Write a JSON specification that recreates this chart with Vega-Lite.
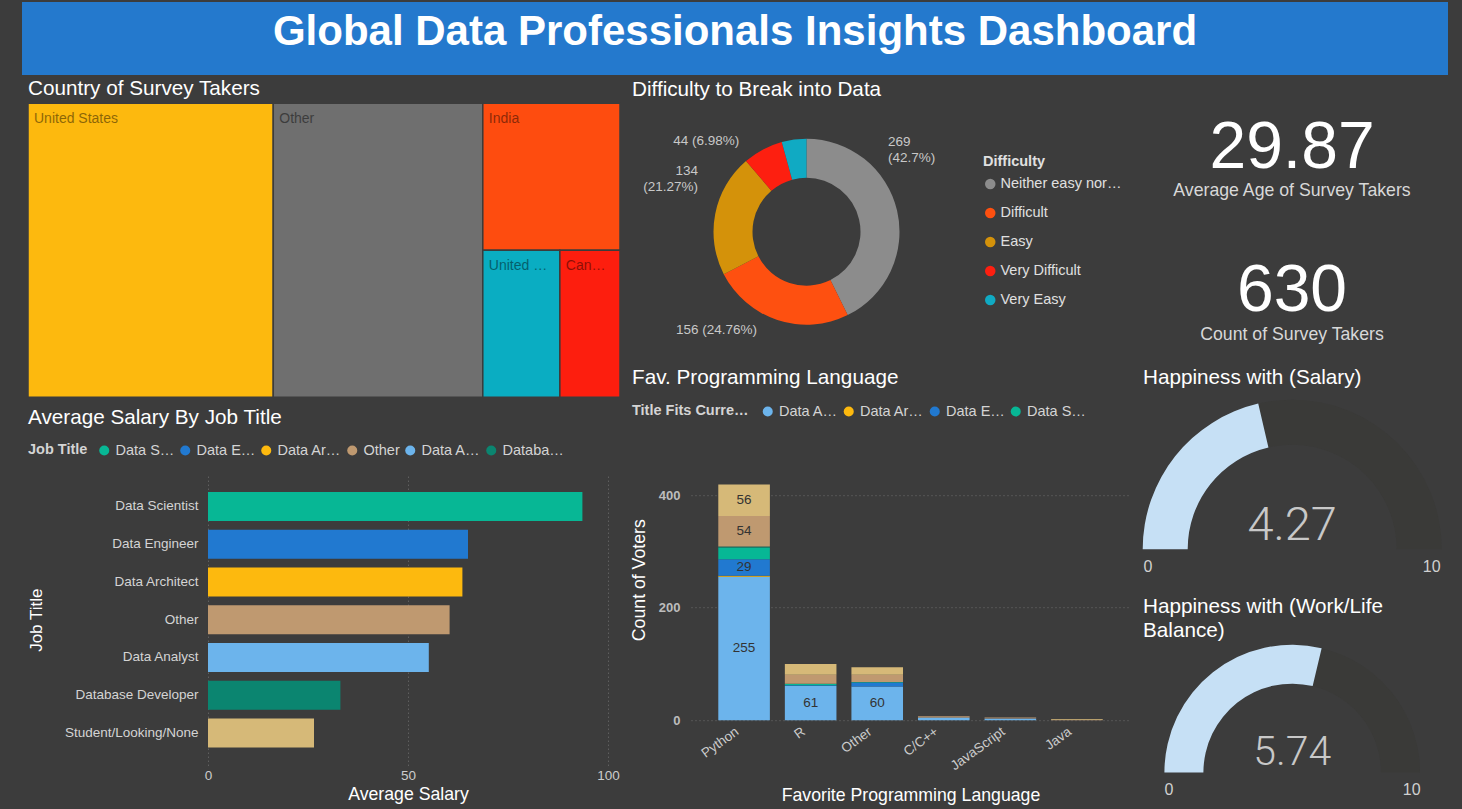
{
  "$schema": "https://vega.github.io/schema/vega-lite/v6.json",
  "autosize": {"type": "none"},
  "padding": {"left": 22, "top": 2, "right": 1440, "bottom": 807},
  "background": "#3c3c3c",
  "config": {
    "font": "Liberation Sans",
    "view": {"stroke": null},
    "title": {"font": "Liberation Sans", "fontSize": 20.7, "fontWeight": "normal", "color": "#ffffff", "anchor": "start", "frame": "group"},
    "axis": {"domain": false, "ticks": false, "grid": false, "labelFont": "Liberation Sans", "titleFont": "Liberation Sans", "labelColor": "#cccccc", "titleColor": "#ffffff", "titleFontWeight": "normal"},
    "legend": {"labelFont": "Liberation Sans", "titleFont": "Liberation Sans"}
  },
  "spacing": 2.2,
  "resolve": {"scale": {"color": "independent"}, "legend": {"color": "independent"}},
  "vconcat": [
    {
      "width": 1426, "height": 73,
      "view": {"fill": "#2479cd"},
      "data": {"values": [{"t": "Global Data Professionals Insights Dashboard"}]},
      "mark": {"type": "text", "fontSize": 42, "fontWeight": "bold", "color": "#ffffff", "align": "center", "baseline": "alphabetic", "dy": 6},
      "encoding": {"text": {"field": "t"}}
    },
    {
      "spacing": -31,
      "resolve": {"scale": {"color": "independent"}, "legend": {"color": "independent"}},
      "vconcat": [
        {
          "hconcat": [
            {"width": 6, "height": 1, "data": {"values": [{}]}, "mark": {"type": "point", "opacity": 0}},
            {
              "width": 592, "height": 294,
              "title": {"text": "Country of Survey Takers", "offset": 3},
              "data": {"values": [
                {"country": "United States", "count": 261, "grp": "A", "sub": "a"},
                {"country": "Other", "count": 223, "grp": "B", "sub": "a"},
                {"country": "India", "count": 73, "grp": "C", "sub": "a"},
                {"country": "United Kingdom", "count": 41, "grp": "C", "sub": "b"},
                {"country": "Canada", "count": 32, "grp": "C", "sub": "b"}
              ]},
              "transform": [
                {"joinaggregate": [{"op": "sum", "field": "count", "as": "gT"}], "groupby": ["grp"]},
                {"joinaggregate": [{"op": "sum", "field": "count", "as": "sT"}], "groupby": ["grp", "sub"]},
                {"stack": "count", "groupby": [], "sort": [{"field": "count", "order": "descending"}], "as": ["s0", "s1"]},
                {"joinaggregate": [{"op": "min", "field": "s0", "as": "gS"}], "groupby": ["grp"]},
                {"joinaggregate": [{"op": "min", "field": "s0", "as": "subS"}], "groupby": ["grp", "sub"]},
                {"calculate": "datum.gS + (datum.s0 - datum.subS) * datum.gT / datum.sT", "as": "x0"},
                {"calculate": "datum.gS + (datum.s1 - datum.subS) * datum.gT / datum.sT", "as": "x1"},
                {"calculate": "(datum.subS - datum.gS) / datum.gT", "as": "y0"},
                {"calculate": "datum.y0 + datum.sT / datum.gT", "as": "y1"}
              ],
              "layer": [
                {
                  "mark": {"type": "rect", "stroke": "#3c3c3c", "strokeWidth": 1.5},
                  "encoding": {
                    "x": {"field": "x0", "type": "quantitative", "scale": {"nice": false, "zero": true}, "axis": null},
                    "x2": {"field": "x1"},
                    "y": {"field": "y0", "type": "quantitative", "scale": {"nice": false, "reverse": true, "domain": [0, 1]}, "axis": null},
                    "y2": {"field": "y1"},
                    "color": {"field": "country", "type": "nominal",
                      "scale": {"domain": ["United States", "Other", "India", "United Kingdom", "Canada"], "range": ["#fdb90e", "#6f6f6f", "#fe4c0f", "#0aadc2", "#fd1e0e"]},
                      "legend": null}
                  }
                },
                {
                  "mark": {"type": "text", "align": "left", "baseline": "top", "dx": 6, "dy": 9, "fontSize": 14, "color": "#000000", "opacity": 0.45,
                    "limit": {"expr": "(datum.x1 - datum.x0) * 592 / 630 - 14"}},
                  "encoding": {
                    "x": {"field": "x0", "type": "quantitative"},
                    "y": {"field": "y0", "type": "quantitative"},
                    "text": {"field": "country"}
                  }
                }
              ]
            },
            {
              "width": 373, "height": 257,
              "title": {"text": "Difficulty to Break into Data", "offset": 3, "dx": 12},
              "data": {"values": [
                {"difficulty": "Neither easy nor difficult", "count": 269},
                {"difficulty": "Difficult", "count": 156},
                {"difficulty": "Easy", "count": 134},
                {"difficulty": "Very Difficult", "count": 44},
                {"difficulty": "Very Easy", "count": 27}
              ]},
              "transform": [
                {"stack": "count", "groupby": [], "sort": [{"field": "count", "order": "descending"}], "as": ["a0", "a1"]},
                {"calculate": "(datum.a0 + datum.a1) / 2", "as": "mid"},
                {"joinaggregate": [{"op": "sum", "field": "count", "as": "tot"}]},
                {"calculate": "format(datum.count / datum.tot, '.2~%')", "as": "pct"}
              ],
              "layer": [
                {
                  "mark": {"type": "arc", "innerRadius": 54, "outerRadius": 93},
                  "encoding": {
                    "theta": {"field": "a0", "type": "quantitative", "scale": {"domain": [0, 630]}},
                    "theta2": {"field": "a1"},
                    "color": {"field": "difficulty", "type": "nominal",
                      "scale": {"domain": ["Neither easy nor difficult", "Difficult", "Easy", "Very Difficult", "Very Easy"], "range": ["#8c8c8c", "#fe5010", "#d4920a", "#fd1f10", "#10aac3"]},
                      "legend": {"orient": "none", "legendX": 363, "legendY": 52, "title": "Difficulty", "titleFontSize": 14.5, "titleFontWeight": "bold", "titleColor": "#e0e0e0", "titlePadding": 7,
                        "labelFontSize": 14.5, "labelColor": "#e0e0e0", "labelLimit": 122.5, "symbolType": "circle", "symbolSize": 110, "symbolStrokeWidth": 0, "rowPadding": 14, "labelOffset": 3, "padding": 0}}
                  }
                },
                {
                  "transform": [{"filter": "datum.difficulty == 'Neither easy nor difficult'"}, {"calculate": "datum.count + '\\n(' + datum.pct + ')'", "as": "lbl"}],
                  "mark": {"type": "text", "radius": 110, "align": "left", "baseline": "alphabetic", "dx": -25.6, "dy": -60.6, "lineBreak": "\n", "lineHeight": 16, "fontSize": 13.5, "color": "#c8c8c8"},
                  "encoding": {"theta": {"field": "mid", "type": "quantitative", "stack": null}, "text": {"field": "lbl"}}
                },
                {
                  "transform": [{"filter": "datum.difficulty == 'Difficult'"}, {"calculate": "datum.count + ' (' + datum.pct + ')'", "as": "lbl"}],
                  "mark": {"type": "text", "radius": 110, "align": "right", "baseline": "alphabetic", "dx": -15, "dy": -2, "fontSize": 13.5, "color": "#c8c8c8"},
                  "encoding": {"theta": {"field": "mid", "type": "quantitative", "stack": null}, "text": {"field": "lbl"}}
                },
                {
                  "transform": [{"filter": "datum.difficulty == 'Easy'"}, {"calculate": "datum.count + '\\n(' + datum.pct + ')'", "as": "lbl"}],
                  "mark": {"type": "text", "radius": 110, "align": "right", "baseline": "alphabetic", "dx": -0.6, "dy": -35, "lineBreak": "\n", "lineHeight": 16, "fontSize": 13.5, "color": "#c8c8c8"},
                  "encoding": {"theta": {"field": "mid", "type": "quantitative", "stack": null}, "text": {"field": "lbl"}}
                },
                {
                  "transform": [{"filter": "datum.difficulty == 'Very Difficult'"}, {"calculate": "datum.count + ' (' + datum.pct + ')'", "as": "lbl"}],
                  "mark": {"type": "text", "radius": 110, "align": "right", "baseline": "alphabetic", "dx": -15.6, "dy": 10.6, "fontSize": 13.5, "color": "#c8c8c8"},
                  "encoding": {"theta": {"field": "mid", "type": "quantitative", "stack": null}, "text": {"field": "lbl"}}
                }
              ]
            },
            {
              "width": 598, "height": 257,
              "data": {"values": [
                {"metric": "Average Age of Survey Takers", "value": 29.87},
                {"metric": "Count of Survey Takers", "value": 630}
              ]},
              "layer": [
                {"transform": [{"filter": "datum.metric == 'Average Age of Survey Takers'"}],
                 "mark": {"type": "text", "fontSize": 66, "color": "#ffffff", "baseline": "alphabetic", "dy": -63.5},
                 "encoding": {"text": {"field": "value", "type": "quantitative", "format": ".2f"}}},
                {"transform": [{"filter": "datum.metric == 'Average Age of Survey Takers'"}],
                 "mark": {"type": "text", "fontSize": 17.7, "color": "#d8d8d8", "baseline": "alphabetic", "dy": -36},
                 "encoding": {"text": {"field": "metric"}}},
                {"transform": [{"filter": "datum.metric == 'Count of Survey Takers'"}],
                 "mark": {"type": "text", "fontSize": 66, "color": "#ffffff", "baseline": "alphabetic", "dy": 79.5},
                 "encoding": {"text": {"field": "value", "type": "quantitative", "format": "d"}}},
                {"transform": [{"filter": "datum.metric == 'Count of Survey Takers'"}],
                 "mark": {"type": "text", "fontSize": 17.7, "color": "#d8d8d8", "baseline": "alphabetic", "dy": 108},
                 "encoding": {"text": {"field": "metric"}}}
              ]
            }
          ],
          "spacing": 0,
          "bounds": "flush",
          "resolve": {"scale": {"color": "independent"}, "legend": {"color": "independent"}}
        },
        {
          "hconcat": [
            {"width": 186, "height": 1, "data": {"values": [{}]}, "mark": {"type": "point", "opacity": 0}},
            {
              "width": 483, "height": 291,
              "title": {"text": "Average Salary By Job Title", "dx": -180, "offset": 14.8},
              "data": {"values": [
                {"job": "Data Scientist", "salary": 93.6},
                {"job": "Data Engineer", "salary": 65.0},
                {"job": "Data Architect", "salary": 63.6},
                {"job": "Other", "salary": 60.4},
                {"job": "Data Analyst", "salary": 55.2},
                {"job": "Database Developer", "salary": 33.1},
                {"job": "Student/Looking/None", "salary": 26.5}
              ]},
              "mark": {"type": "bar"},
              "encoding": {
                "y": {"field": "job", "type": "nominal", "sort": "-x", "title": "Job Title",
                  "scale": {"paddingInner": 0.232, "paddingOuter": 0.47},
                  "axis": {"labelFontSize": 13.5, "labelColor": "#d4d4d4", "labelPadding": 10, "labelLimit": 220, "titleFontSize": 17, "titlePadding": 19}},
                "x": {"field": "salary", "type": "quantitative", "title": "Average Salary",
                  "scale": {"domain": [0, 120.75], "nice": false},
                  "axis": {"values": [0, 50, 100], "labelFlush": false, "grid": true, "gridColor": "#707070", "gridDash": [1, 3], "labelFontSize": 13.5, "labelColor": "#cccccc", "labelPadding": 3, "titleFontSize": 17.7, "titlePadding": 4, "titleX": 200}},
                "color": {"field": "job", "type": "nominal",
                  "scale": {"domain": ["Data Scientist", "Data Engineer", "Data Architect", "Other", "Data Analyst", "Database Developer", "Student/Looking/None"],
                            "range": ["#07b795", "#2179d0", "#fdb90e", "#bf9970", "#6cb4ec", "#0b8570", "#d6b978"]},
                  "legend": {"orient": "none", "legendX": -180, "legendY": -31, "direction": "horizontal", "title": "Job Title", "titleOrient": "left",
                    "values": ["Data Scientist", "Data Engineer", "Data Architect", "Other", "Data Analyst", "Database Developer"],
                    "titleFontSize": 14.5, "titleFontWeight": "bold", "titleColor": "#d4d4d4", "titlePadding": 9,
                    "labelFontSize": 14.5, "labelColor": "#d4d4d4", "labelLimit": 64.5, "labelOffset": 4, "columnPadding": 3,
                    "symbolType": "circle", "symbolSize": 100, "symbolStrokeWidth": 0, "padding": 0}}
              }
            },
            {
              "width": 439, "height": 246,
              "title": {"text": "Fav. Programming Language", "dx": -59, "offset": 15.3},
              "data": {"values": [
                {"lang": "Python", "job": "Data Analyst", "count": 255},
                {"lang": "Python", "job": "Data Architect", "count": 2},
                {"lang": "Python", "job": "Data Engineer", "count": 29},
                {"lang": "Python", "job": "Data Scientist", "count": 21},
                {"lang": "Python", "job": "Database Developer", "count": 2},
                {"lang": "Python", "job": "Other", "count": 54},
                {"lang": "Python", "job": "Student/Looking/None", "count": 56},
                {"lang": "R", "job": "Data Analyst", "count": 61},
                {"lang": "R", "job": "Data Engineer", "count": 1},
                {"lang": "R", "job": "Data Scientist", "count": 3},
                {"lang": "R", "job": "Other", "count": 16},
                {"lang": "R", "job": "Student/Looking/None", "count": 19},
                {"lang": "Other", "job": "Data Analyst", "count": 60},
                {"lang": "Other", "job": "Data Engineer", "count": 7},
                {"lang": "Other", "job": "Data Scientist", "count": 1},
                {"lang": "Other", "job": "Other", "count": 13},
                {"lang": "Other", "job": "Student/Looking/None", "count": 13},
                {"lang": "C/C++", "job": "Data Analyst", "count": 5},
                {"lang": "C/C++", "job": "Other", "count": 2},
                {"lang": "JavaScript", "job": "Data Analyst", "count": 2},
                {"lang": "JavaScript", "job": "Data Engineer", "count": 1},
                {"lang": "JavaScript", "job": "Other", "count": 2},
                {"lang": "Java", "job": "Other", "count": 1},
                {"lang": "Java", "job": "Student/Looking/None", "count": 1}
              ]},
              "transform": [
                {"stack": "count", "groupby": ["lang"], "sort": [{"field": "job", "order": "ascending"}], "as": ["c0", "c1"]}
              ],
              "layer": [
                {
                  "mark": {"type": "bar"},
                  "encoding": {
                    "x": {"field": "lang", "type": "nominal", "sort": ["Python", "R", "Other", "C/C++", "JavaScript", "Java"], "title": "Favorite Programming Language",
                      "scale": {"paddingInner": 0.225, "paddingOuter": 0.41},
                      "axis": {"labelAngle": -36, "labelFontSize": 13.5, "labelColor": "#cccccc", "labelPadding": 4, "labelOffset": -11, "titleFontSize": 17.7, "titlePadding": 14}},
                    "y": {"field": "c0", "type": "quantitative", "title": "Count of Voters",
                      "scale": {"domain": [0, 437.33], "nice": false},
                      "axis": {"values": [0, 200, 400], "grid": true, "gridColor": "#707070", "gridDash": [1, 3], "labelFontSize": 13, "labelFontWeight": "bold", "labelColor": "#bdbdbd", "labelPadding": 11, "titleFontSize": 17.7, "titlePadding": 10, "titleY": 105.5}},
                    "y2": {"field": "c1"},
                    "color": {"field": "job", "type": "nominal",
                      "scale": {"domain": ["Data Analyst", "Data Architect", "Data Engineer", "Data Scientist", "Database Developer", "Other", "Student/Looking/None"],
                                "range": ["#6cb4ec", "#fdb90e", "#2179d0", "#07b795", "#0b8570", "#bf9970", "#d6b978"]},
                      "legend": {"orient": "none", "legendX": -59, "legendY": -70, "direction": "horizontal", "title": "Title Fits Current Role", "titleOrient": "left", "titleLimit": 120,
                        "values": ["Data Analyst", "Data Architect", "Data Engineer", "Data Scientist"],
                        "titleFontSize": 14.5, "titleFontWeight": "bold", "titleColor": "#d4d4d4", "titlePadding": 11.5,
                        "labelFontSize": 14.5, "labelColor": "#d4d4d4", "labelLimit": 64.5, "labelOffset": 4, "columnPadding": 3,
                        "symbolType": "circle", "symbolSize": 100, "symbolStrokeWidth": 0, "padding": 0}}
                  }
                },
                {
                  "transform": [{"filter": "datum.count >= 25"}, {"calculate": "(datum.c0 + datum.c1) / 2", "as": "cm"}],
                  "mark": {"type": "text", "fontSize": 13.5, "color": "#333333"},
                  "encoding": {
                    "x": {"field": "lang", "type": "nominal", "sort": ["Python", "R", "Other", "C/C++", "JavaScript", "Java"]},
                    "y": {"field": "cm", "type": "quantitative"},
                    "text": {"field": "count", "type": "quantitative"}
                  }
                }
              ]
            },
            {
              "width": 324.4, "height": 373.3,
              "data": {"values": [
                {"measure": "Salary", "title": "Happiness with (Salary)", "value": 4.27, "min": 0, "max": 10},
                {"measure": "Work/Life Balance", "title": "Happiness with (Work/Life\nBalance)", "value": 5.74, "min": 0, "max": 10}
              ]},
              "encoding": {
                "y": {"field": "measure", "type": "nominal", "scale": {"type": "point", "padding": 0.3359, "domain": ["Salary", "Work/Life Balance"]}, "axis": null}
              },
              "layer": [
                {"transform": [{"filter": "datum.measure == 'Salary'"}],
                 "mark": {"type": "arc", "outerRadius": 149.5, "innerRadius": 104.5, "color": "#3a3a38"},
                 "encoding": {"theta": {"field": "min", "type": "quantitative", "stack": null, "scale": {"domain": [0, 10], "range": [-1.5707963, 1.5707963]}}, "theta2": {"field": "max"}}},
                {"transform": [{"filter": "datum.measure == 'Salary'"}],
                 "mark": {"type": "arc", "outerRadius": 149.5, "innerRadius": 104.5, "color": "#c6e0f5"},
                 "encoding": {"theta": {"field": "min", "type": "quantitative", "stack": null}, "theta2": {"field": "value"}}},
                {"transform": [{"filter": "datum.measure == 'Work/Life Balance'"}],
                 "mark": {"type": "arc", "outerRadius": 127.8, "innerRadius": 88.8, "color": "#3a3a38"},
                 "encoding": {"theta": {"field": "min", "type": "quantitative", "stack": null}, "theta2": {"field": "max"}}},
                {"transform": [{"filter": "datum.measure == 'Work/Life Balance'"}],
                 "mark": {"type": "arc", "outerRadius": 127.8, "innerRadius": 88.8, "color": "#c6e0f5"},
                 "encoding": {"theta": {"field": "min", "type": "quantitative", "stack": null}, "theta2": {"field": "value"}}},
                {"transform": [{"filter": "datum.measure == 'Salary'"}],
                 "mark": {"type": "text", "font": "Liberation Sans Narrow, Roboto", "fontWeight": 300, "fontSize": 47, "color": "#c8c8c8", "baseline": "alphabetic", "dy": -9},
                 "encoding": {"text": {"field": "value", "type": "quantitative", "format": ".2f"}}},
                {"transform": [{"filter": "datum.measure == 'Work/Life Balance'"}],
                 "mark": {"type": "text", "font": "Liberation Sans Narrow, Roboto", "fontWeight": 300, "fontSize": 41, "color": "#c8c8c8", "baseline": "alphabetic", "dy": -7.3},
                 "encoding": {"text": {"field": "value", "type": "quantitative", "format": ".2f"}}},
                {"transform": [{"filter": "datum.measure == 'Salary'"}],
                 "mark": {"type": "text", "fontSize": 16, "color": "#d0d0d0", "dx": -144.2, "dy": 17.7},
                 "encoding": {"text": {"field": "min", "type": "quantitative"}}},
                {"transform": [{"filter": "datum.measure == 'Salary'"}],
                 "mark": {"type": "text", "fontSize": 16, "color": "#d0d0d0", "dx": 139.5, "dy": 17.7},
                 "encoding": {"text": {"field": "max", "type": "quantitative"}}},
                {"transform": [{"filter": "datum.measure == 'Work/Life Balance'"}],
                 "mark": {"type": "text", "fontSize": 16, "color": "#d0d0d0", "dx": -123.2, "dy": 17.7},
                 "encoding": {"text": {"field": "min", "type": "quantitative"}}},
                {"transform": [{"filter": "datum.measure == 'Work/Life Balance'"}],
                 "mark": {"type": "text", "fontSize": 16, "color": "#d0d0d0", "dx": 119.5, "dy": 17.7},
                 "encoding": {"text": {"field": "max", "type": "quantitative"}}},
                {"transform": [{"filter": "datum.measure == 'Salary'"}],
                 "mark": {"type": "text", "fontSize": 20.7, "color": "#ffffff", "align": "left", "baseline": "alphabetic", "dx": -149.2, "dy": -165},
                 "encoding": {"text": {"field": "title"}}},
                {"transform": [{"filter": "datum.measure == 'Work/Life Balance'"}],
                 "mark": {"type": "text", "fontSize": 20.7, "color": "#ffffff", "align": "left", "baseline": "alphabetic", "dx": -149.2, "dy": -159.8, "lineBreak": "\n", "lineHeight": 24},
                 "encoding": {"text": {"field": "title"}}}
              ]
            }
          ],
          "spacing": 0,
          "bounds": "flush",
          "resolve": {"scale": {"color": "independent"}, "legend": {"color": "independent"}}
        }
      ]
    }
  ]
}
